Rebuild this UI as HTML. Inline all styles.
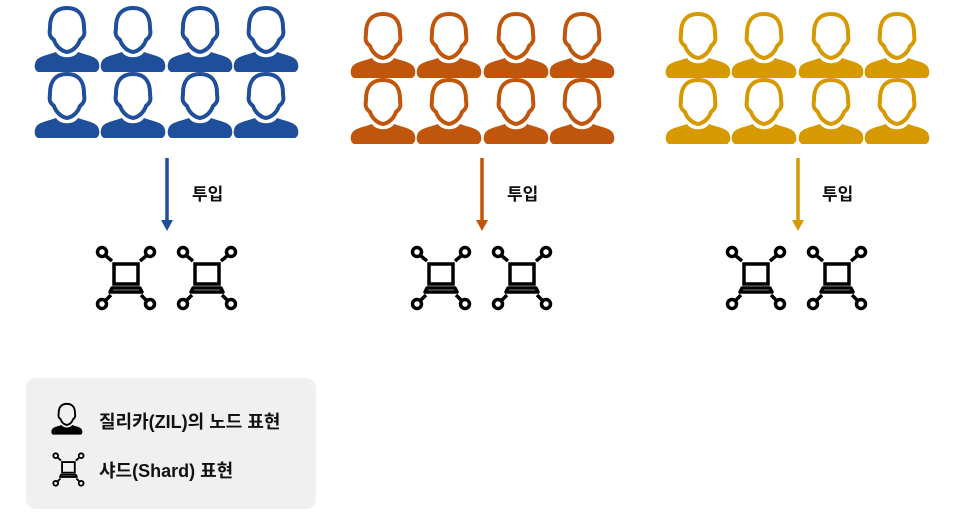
<!DOCTYPE html>
<html><head><meta charset="utf-8"><style>
body{margin:0;width:966px;height:521px;background:#fff;position:relative;overflow:hidden;font-family:"Liberation Sans","Noto Sans CJK KR",sans-serif}
svg{position:absolute;left:0;top:0}
.t{position:absolute;font-size:17px;font-weight:bold;color:#111;white-space:nowrap}
</style></head><body>
<svg width="966" height="521" viewBox="0 0 966 521">
<defs>
<g id="p">
<path d="M33 6 C21 6 16 14 16 25 C16 29 15 30 16 33 C17 36 18 36 20 38 C22 44 27 49 33 50 C39 49 44 44 46 38 C48 36 49 36 50 33 C51 30 50 29 50 25 C50 14 45 6 33 6 Z" fill="none" stroke="currentColor" stroke-width="4"/>
<path d="M22 50 C14 53 5 54 2 59 C0 63 0 68 4 70 L62 70 C66 68 66 63 64 59 C61 54 52 53 44 50 C40 57 26 57 22 50 Z" fill="currentColor"/>
</g>
<g id="s" fill="none" stroke="#000" stroke-width="3.5">
<rect x="19" y="19" width="24" height="20"/>
<path d="M17 43 L45 43 L47 47 L15 47 Z" stroke-linejoin="round"/>
<circle cx="7" cy="7" r="4.5"/><circle cx="55" cy="7" r="4.5"/>
<circle cx="7" cy="59" r="4.5"/><circle cx="55" cy="59" r="4.5"/>
<path d="M11 11 L17 16 M51 11 L45 16 M11 55 L16 50 M51 55 L46 50"/>
</g>
<g id="grp">
<use href="#p" x="0" y="0"/><use href="#p" x="66" y="0"/><use href="#p" x="133" y="0"/><use href="#p" x="199" y="0"/>
<use href="#p" x="0" y="66"/><use href="#p" x="66" y="66"/><use href="#p" x="133" y="66"/><use href="#p" x="199" y="66"/>
</g>
</defs>
<g color="#1f4e9a"><use href="#grp" x="34" y="2"/></g>
<g color="#c0560b"><use href="#grp" x="350" y="8"/></g>
<g color="#d69a00"><use href="#grp" x="665" y="8"/></g>
<g stroke-width="3.5">
<line x1="167" y1="158" x2="167" y2="222" stroke="#1f4e9a"/><path d="M161 220 L173 220 L167 231 Z" fill="#1f4e9a"/>
<line x1="482" y1="158" x2="482" y2="222" stroke="#c0560b"/><path d="M476 220 L488 220 L482 231 Z" fill="#c0560b"/>
<line x1="798" y1="158" x2="798" y2="222" stroke="#d69a00"/><path d="M792 220 L804 220 L798 231 Z" fill="#d69a00"/>
</g>
<use href="#s" x="95" y="245"/><use href="#s" x="176" y="245"/>
<use href="#s" x="410" y="245"/><use href="#s" x="491" y="245"/>
<use href="#s" x="725" y="245"/><use href="#s" x="806" y="245"/>
<rect x="26" y="378" width="290" height="131" rx="10" fill="#f0f0f0"/>
<g color="#000" transform="translate(51,401) scale(0.48)"><use href="#p"/></g>
<g transform="translate(52,452) scale(0.53)" stroke-width="3"><use href="#s"/></g>
</svg>
<div class="t" style="left:192px;top:180px">투입</div>
<div class="t" style="left:507px;top:180px">투입</div>
<div class="t" style="left:822px;top:180px">투입</div>
<div class="t" style="left:99px;top:408px;font-size:18px">질리카(ZIL)의 노드 표현</div>
<div class="t" style="left:99px;top:457px;font-size:18px">샤드(Shard) 표현</div>
</body></html>
